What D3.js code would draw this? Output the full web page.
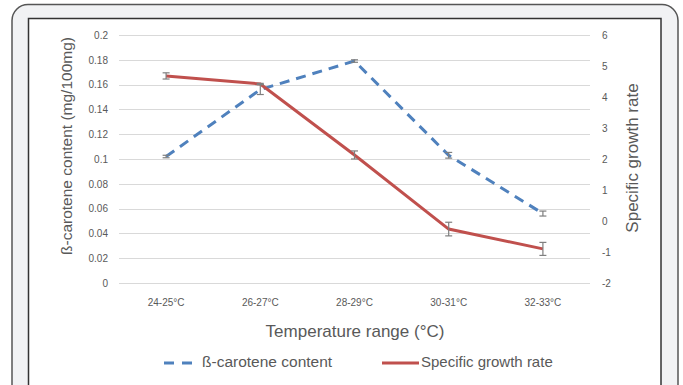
<!DOCTYPE html>
<html><head><meta charset="utf-8">
<script src="https://cdn.jsdelivr.net/npm/d3@7"></script>
<style>body{margin:0;background:#fff}svg{display:block}</style>
</head><body><svg id="c" width="683" height="385"></svg>
<script>
const categories = ["24-25°C","26-27°C","28-29°C","30-31°C","32-33°C"];
const carotene = [0.102, 0.156, 0.179, 0.103, 0.056];
const caroteneErr = [0.001, 0.004, 0.001, 0.0023, 0.002];
const growth = [4.68, 4.42, 2.13, -0.26, -0.9];
const growthErr = [0.1, 0.02, 0.13, 0.22, 0.21];
const leftTicks = [0,0.02,0.04,0.06,0.08,0.1,0.12,0.14,0.16,0.18,0.2];
const rightTicks = [-2,-1,0,1,2,3,4,5,6];

const svg = d3.select("#c");
const font = "'Liberation Sans', Arial, sans-serif";
// outer frame
svg.append("rect").attr("x",12).attr("y",4.5).attr("width",666).attr("height",420).attr("rx",16)
  .attr("fill","#f1f2f4").attr("stroke","#555").attr("stroke-width",1.5);
svg.append("rect").attr("x",28.5).attr("y",18.5).attr("width",632.5).attr("height",400)
  .attr("fill","#fff").attr("stroke","#333").attr("stroke-width",1.5);

const x = d3.scaleBand().domain(categories).range([119,590]);
const yL = d3.scaleLinear().domain([0,0.2]).range([283,35]);
const yR = d3.scaleLinear().domain([-2,6]).range([283,35]);

// gridlines
svg.append("g").selectAll("line").data(leftTicks).join("line")
  .attr("x1",119).attr("x2",590).attr("y1",d=>Math.round(yL(d))+0.5).attr("y2",d=>Math.round(yL(d))+0.5)
  .attr("stroke","#d9d9d9").attr("stroke-width",1);

// axes
const axL = d3.axisLeft(yL).tickValues(leftTicks).tickSize(0).tickPadding(11).tickFormat(d=>String(+d.toFixed(2)));
const gL = svg.append("g").attr("transform","translate(119,0)").call(axL);
gL.select(".domain").remove();
gL.selectAll("text").attr("fill","#595959").style("font-family",font).style("font-size","10px");

const axR = d3.axisRight(yR).tickValues(rightTicks).tickSize(0).tickPadding(12).tickFormat(d=>String(d));
const gR = svg.append("g").attr("transform","translate(590,0)").call(axR);
gR.select(".domain").remove();
gR.selectAll("text").attr("fill","#595959").style("font-family",font).style("font-size","10px");

const axB = d3.axisBottom(x).tickSize(0).tickPadding(16);
const gB = svg.append("g").attr("transform","translate(0,283)").call(axB);
gB.select(".domain").remove();
gB.selectAll("text").attr("fill","#595959").style("font-family",font).style("font-size","10px");

// titles
svg.append("text").attr("transform","translate(68,146) rotate(-90)").attr("text-anchor","middle")
  .attr("dominant-baseline","middle").attr("fill","#595959").style("font-family",font).style("font-size","15.5px")
  .text("ß-carotene content (mg/100mg)");
svg.append("text").attr("transform","translate(634,158) rotate(-90)").attr("text-anchor","middle")
  .attr("dominant-baseline","middle").attr("fill","#595959").style("font-family",font).style("font-size","17px")
  .text("Specific growth rate");
svg.append("text").attr("x",355).attr("y",333).attr("text-anchor","middle")
  .attr("dominant-baseline","middle").attr("fill","#595959").style("font-family",font).style("font-size","17px")
  .text("Temperature range (°C)");

const cx = d => x(d) + x.bandwidth()/2;
const blue = "#4f81bd", red = "#c0504d";

// lines
const lineL = d3.line().x((d,i)=>cx(categories[i])).y(d=>yL(d));
const lineR = d3.line().x((d,i)=>cx(categories[i])).y(d=>yR(d));
svg.append("path").attr("d",lineL(carotene)).attr("fill","none").attr("stroke",blue)
  .attr("stroke-width",3).attr("stroke-dasharray","10,7");
svg.append("path").attr("d",lineR(growth)).attr("fill","none").attr("stroke",red)
  .attr("stroke-width",3);

// error bars
function errBars(vals, errs, y){
  const g = svg.append("g").attr("stroke","#7f7f7f").attr("stroke-width",1.2);
  vals.forEach((v,i)=>{
    const X = cx(categories[i]);
    const y1 = y(v-errs[i]), y2 = y(v+errs[i]);
    g.append("line").attr("x1",X).attr("x2",X).attr("y1",y1).attr("y2",y2);
    g.append("line").attr("x1",X-3.5).attr("x2",X+3.5).attr("y1",y1).attr("y2",y1);
    g.append("line").attr("x1",X-3.5).attr("x2",X+3.5).attr("y1",y2).attr("y2",y2);
  });
}
errBars(carotene, caroteneErr, yL);
errBars(growth, growthErr, yR);

// legend
const ly = 363;
svg.append("line").attr("x1",164).attr("x2",192).attr("y1",ly).attr("y2",ly).attr("stroke",blue)
  .attr("stroke-width",3).attr("stroke-dasharray","10,8");
svg.append("text").attr("x",202).attr("y",ly).attr("dominant-baseline","middle").attr("fill","#595959")
  .style("font-family",font).style("font-size","15.5px").text("ß-carotene content");
svg.append("line").attr("x1",382).attr("x2",419).attr("y1",ly).attr("y2",ly).attr("stroke",red)
  .attr("stroke-width",3);
svg.append("text").attr("x",421).attr("y",ly).attr("dominant-baseline","middle").attr("fill","#595959")
  .style("font-family",font).style("font-size","15px").text("Specific growth rate");
</script></body></html>
